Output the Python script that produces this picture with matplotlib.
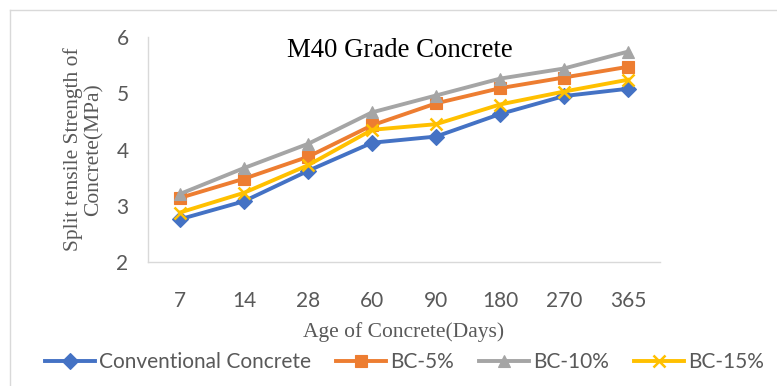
import matplotlib
matplotlib.use("Agg")
import matplotlib.pyplot as plt
from matplotlib.lines import Line2D

# split tensile strength (MPa) against curing age
days = ["7", "14", "28", "60", "90", "180", "270", "365"]
conventional = [2.76, 3.08, 3.62, 4.12, 4.23, 4.63, 4.95, 5.08]
bc5 = [3.14, 3.48, 3.87, 4.43, 4.82, 5.09, 5.28, 5.47]
bc10 = [3.21, 3.67, 4.10, 4.66, 4.96, 5.26, 5.44, 5.74]
bc15 = [2.88, 3.23, 3.72, 4.35, 4.45, 4.80, 5.03, 5.24]

series = [
    ("Conventional Concrete", conventional, "#4472C4", "D", 8),
    ("BC-5%", bc5, "#ED7D31", "s", 8),
    ("BC-10%", bc10, "#A5A5A5", "^", 9),
    ("BC-15%", bc15, "#FFC000", "x", 9),
]

serif = ["Liberation Serif", "DejaVu Serif"]
sans = ["Lato", "DejaVu Sans"]
grey_txt = "#595959"

fig = plt.figure(figsize=(7.77, 3.86), dpi=100)
ax = fig.add_axes([148 / 777, 1 - 262 / 386, 512 / 777, 225 / 386])

for name, vals, col, mk, ms in series:
    ax.plot(days, vals, color=col, lw=2.8, marker=mk, markersize=ms,
            markeredgewidth=1.8 if mk == "x" else 0.8, markeredgecolor=col,
            markerfacecolor=col, label=name, solid_joinstyle="round")

ax.set_ylim(2, 6)
ax.set_xlim(-0.5, 7.5)
ax.set_yticks([2, 3, 4, 5, 6])
for s in ["top", "right"]:
    ax.spines[s].set_visible(False)
for s in ["left", "bottom"]:
    ax.spines[s].set_color("#d9d9d9")
    ax.spines[s].set_linewidth(1.0)
ax.tick_params(length=0, labelsize=15, colors=grey_txt)
ax.tick_params(axis="y", pad=14)
ax.tick_params(axis="x", pad=21)
for lbl in ax.get_xticklabels() + ax.get_yticklabels():
    lbl.set_family(sans)

ax.text(0.492, 0.94, "M40 Grade Concrete", transform=ax.transAxes,
        ha="center", va="center", fontsize=19.3, family=serif, color="black")
ax.set_ylabel("Split tensile Strength of\nConcrete(MPa)", fontsize=15.5,
              family=serif, color=grey_txt, labelpad=9, linespacing=1.15)
ax.set_xlabel("Age of Concrete(Days)", fontsize=15.5, family=serif,
              color=grey_txt, labelpad=8)

leg = fig.legend(loc="center", bbox_to_anchor=(0.521, 1 - 362 / 386), ncol=4,
                 frameon=False, handlelength=2.4, columnspacing=1.2,
                 handletextpad=0.2, borderpad=0.1, borderaxespad=0,
                 prop={"family": sans, "size": 15})
for t in leg.get_texts():
    t.set_color(grey_txt)

# outer chart-area border
fig.add_artist(Line2D([10 / 777, 10 / 777], [0, 1 - 10 / 386],
                      transform=fig.transFigure, color="#d9d9d9", lw=1))
fig.add_artist(Line2D([10 / 777, 1], [1 - 10 / 386, 1 - 10 / 386],
                      transform=fig.transFigure, color="#d9d9d9", lw=1))

fig.savefig("out.png", dpi=100)
